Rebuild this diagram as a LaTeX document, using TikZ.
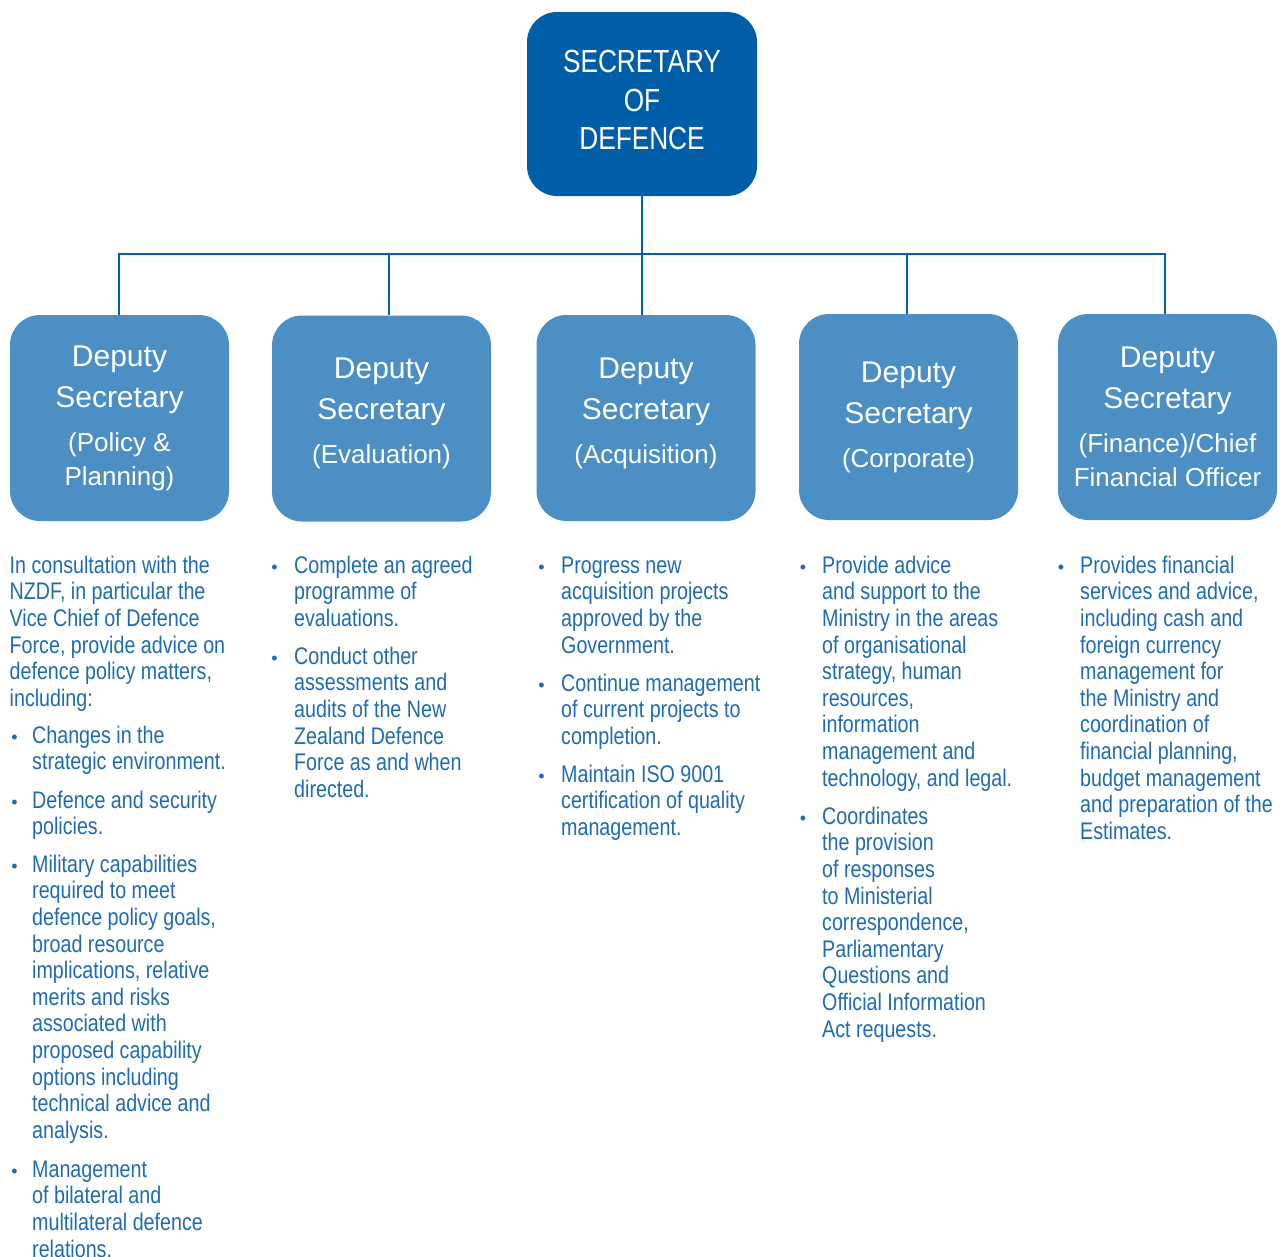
\documentclass[tikz,border=0pt]{standalone}
\usepackage{fontspec}
\setmainfont{Liberation Sans}
\newfontfamily\mdHdrFam{Liberation Sans}
\newfontfamily\mdBodyFam[FakeStretch=0.82]{Liberation Sans}
\definecolor{mdDark}{RGB}{0,94,168}
\definecolor{mdLight}{RGB}{75,143,196}
\definecolor{mdLine}{RGB}{0,96,170}
\definecolor{mdText}{RGB}{30,107,178}
\newcommand\mdTopFont{\mdBodyFam\fontsize{32}{38.5}\selectfont}
\newcommand\mdHdrFont{\mdHdrFam\fontsize{30}{41}\selectfont}
\newcommand\mdSubFont{\mdHdrFam\fontsize{26}{41}\selectfont}
\newcommand\mdBodyFont{\mdBodyFam\fontsize{24}{26.6}\selectfont}
\newcommand\mdBulFont{\mdHdrFam\fontsize{18}{18}\selectfont}
\newcommand\mdStrut{\rule{0pt}{18pt}}
\begin{document}
\begin{tikzpicture}[x=1pt,y=-1pt,
  topbox/.style={fill=mdDark, rounded corners=30pt, minimum width=230pt, minimum height=184pt, text=white, align=center, font=\mdTopFont, inner sep=0pt},
  dsbox/.style={fill=mdLight, rounded corners=30pt, minimum width=219pt, minimum height=206pt, text=white, align=center, font=\mdHdrFont, inner sep=0pt},
  wire/.style={draw=mdLine, line width=2.5pt},
  para/.style={anchor=north west, inner sep=0pt, align=left, text=mdText, font=\mdBodyFont},
  bul/.style={anchor=base, inner sep=0pt, text=mdText, font=\mdBulFont}]
\useasboundingbox (0,0) rectangle (1282,1256);

% boxes
\node[topbox] (top) at (642,104) {SECRETARY\\OF\\DEFENCE\rule[-8pt]{0pt}{8pt}};
\node[dsbox] (b1) at (119.5,418) {Deputy\\Secretary\\[3pt]{\mdSubFont (Policy \&}\\[-7pt]{\mdSubFont Planning)}};
\node[dsbox] (b2) at (381.5,418.5) {Deputy\\Secretary\\[3pt]{\mdSubFont (Evaluation)}\rule[-15pt]{0pt}{15pt}};
\node[dsbox] (b3) at (646,418) {Deputy\\Secretary\\[3pt]{\mdSubFont (Acquisition)}\rule[-15pt]{0pt}{15pt}};
\node[dsbox] (b4) at (908.5,417) {Deputy\\Secretary\\[3pt]{\mdSubFont (Corporate)}};
\node[dsbox] (b5) at (1167.5,417) {Deputy\\Secretary\\[3pt]{\mdSubFont (Finance)/Chief}\\[-7pt]{\mdSubFont Financial Officer}};

% connectors
\coordinate (j1) at (119,254);
\coordinate (j2) at (389,254);
\coordinate (j3) at (642,254);
\coordinate (j4) at (907,254);
\coordinate (j5) at (1165,254);
\draw[wire] (top.south) -- (j3);
\draw[wire] (j1 |- b1.north) -- (j1) -- (j5) -- (j5 |- b5.north);
\draw[wire] (j2) -- (j2 |- b2.north);
\draw[wire] (j3) -- (j3 |- b3.north);
\draw[wire] (j4) -- (j4 |- b4.north);

% column 1
\node[para] (c1p) at (9.5,555) {\mdStrut In consultation with the\\NZDF, in particular the\\Vice Chief of Defence\\Force, provide advice on\\defence policy matters,\\including:};
\node[bul] (c1d1) at (14.5,743) {•};
\node[para] (c1i1) at (32,725) {\mdStrut Changes in the\\strategic environment.};
\node[bul] (c1d2) at (14.5,808) {•};
\node[para] (c1i2) at (32,790) {\mdStrut Defence and security\\policies.};
\node[bul] (c1d3) at (14.5,872) {•};
\node[para] (c1i3) at (32,854) {\mdStrut Military capabilities\\required to meet\\defence policy goals,\\broad resource\\implications, relative\\merits and risks\\associated with\\proposed capability\\options including\\technical advice and\\analysis.};
\node[bul] (c1d4) at (14.5,1177) {•};
\node[para] (c1i4) at (32,1159) {\mdStrut Management\\of bilateral and\\multilateral defence\\relations.};

% column 2
\node[bul] (c2d1) at (274.5,573) {•};
\node[para] (c2i1) at (294,555) {\mdStrut Complete an agreed\\programme of\\evaluations.};
\node[bul] (c2d2) at (274.5,664) {•};
\node[para] (c2i2) at (294,646) {\mdStrut Conduct other\\assessments and\\audits of the New\\Zealand Defence\\Force as and when\\directed.};

% column 3
\node[bul] (c3d1) at (541.5,573) {•};
\node[para] (c3i1) at (561,555) {\mdStrut Progress new\\acquisition projects\\approved by the\\Government.};
\node[bul] (c3d2) at (541.5,691) {•};
\node[para] (c3i2) at (561,673) {\mdStrut Continue management\\of current projects to\\completion.};
\node[bul] (c3d3) at (541.5,782) {•};
\node[para] (c3i3) at (561,764) {\mdStrut Maintain ISO 9001\\certification of quality\\management.};

% column 4
\node[bul] (c4d1) at (803,573) {•};
\node[para] (c4i1) at (822,555) {\mdStrut Provide advice\\and support to the\\Ministry in the areas\\of organisational\\strategy, human\\resources,\\information\\management and\\technology, and legal.};
\node[bul] (c4d2) at (803,824) {•};
\node[para] (c4i2) at (822,806) {\mdStrut Coordinates\\the provision\\of responses\\to Ministerial\\correspondence,\\Parliamentary\\Questions and\\Official Information\\Act requests.};

% column 5
\node[bul] (c5d1) at (1061,573) {•};
\node[para] (c5i1) at (1080,555) {\mdStrut Provides financial\\services and advice,\\including cash and\\foreign currency\\management for\\the Ministry and\\coordination of\\financial planning,\\budget management\\and preparation of the\\Estimates.};
\end{tikzpicture}
\end{document}
